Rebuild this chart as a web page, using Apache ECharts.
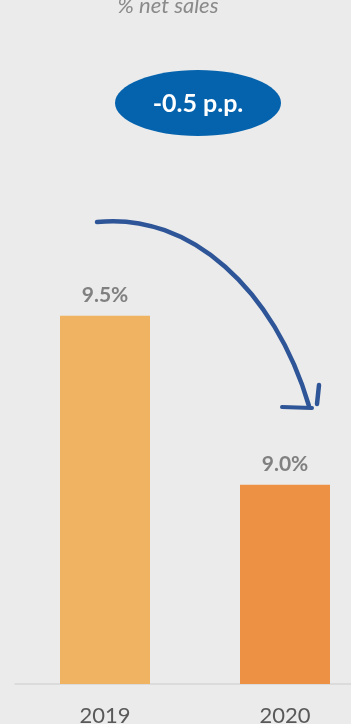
<!DOCTYPE html>
<html>
<head>
    <meta charset="utf-8">
    <title>% net sales</title>
    <style>
        html, body {
            margin: 0;
            padding: 0;
            background-color: #ebebeb;
        }
        #chart {
            width: 351px;
            height: 724px;
        }
    </style>
</head>
<body>
    <div id="chart"></div>
    <script src="https://cdn.jsdelivr.net/npm/echarts@6/dist/echarts.min.js"></script>
    <script>
        var years = ['2019', '2020'];
        var values = [9.5, 9.0];
        var barColors = ['#efb362', '#ed9245'];
        var deltaLabel = '-0.5 p.p.';

        var myChart = echarts.init(document.getElementById('chart'));

        var option = {
            backgroundColor: '#ebebeb',
            title: {
                text: '% net sales',
                left: 163,
                top: -10,
                textAlign: 'center',
                textStyle: {
                    fontFamily: 'Lato',
                    fontStyle: 'italic',
                    fontWeight: 'normal',
                    fontSize: 22,
                    color: '#8a8a8a'
                }
            },
            grid: {
                left: 15,
                width: 360,
                top: 113,
                bottom: 40,
                outerBoundsMode: 'none'
            },
            xAxis: {
                type: 'category',
                data: years,
                axisLine: { lineStyle: { color: '#d6d6d6', width: 1.5 } },
                axisTick: { show: false },
                axisLabel: {
                    margin: 21,
                    fontFamily: 'Lato',
                    fontSize: 22,
                    color: '#595959'
                }
            },
            yAxis: {
                type: 'value',
                min: 8.41,
                max: 10.1,
                show: false,
                splitLine: { show: false }
            },
            series: [{
                type: 'bar',
                barWidth: 90,
                data: values.map(function (v, i) {
                    return { value: v, itemStyle: { color: barColors[i] } };
                }),
                label: {
                    show: true,
                    position: 'top',
                    distance: 10,
                    formatter: function (p) { return p.value.toFixed(1) + '%'; },
                    fontFamily: 'Lato',
                    fontWeight: 'bold',
                    fontSize: 21,
                    color: '#808080'
                }
            }],
            graphic: [
                {
                    type: 'ellipse',
                    shape: { cx: 198, cy: 103, rx: 83, ry: 33 },
                    style: { fill: '#0563ae' }
                },
                {
                    type: 'text',
                    x: 198,
                    y: 104,
                    style: {
                        text: deltaLabel,
                        fill: '#ffffff',
                        fontFamily: 'Lato',
                        fontWeight: 'bold',
                        fontSize: 25,
                        align: 'center',
                        verticalAlign: 'middle'
                    }
                },
                {
                    type: 'bezierCurve',
                    shape: {
                        x1: 97, y1: 222,
                        cpx1: 190, cpy1: 212,
                        cpx2: 275, cpy2: 290,
                        x2: 309, y2: 406
                    },
                    style: { stroke: '#2e5597', lineWidth: 4.5, fill: null, lineCap: 'round' }
                },
                {
                    type: 'polyline',
                    shape: { points: [[282, 407], [312, 408]] },
                    style: { stroke: '#2e5597', lineWidth: 4, lineCap: 'round' }
                },
                {
                    type: 'polyline',
                    shape: { points: [[319, 385], [317, 404]] },
                    style: { stroke: '#2e5597', lineWidth: 4.5, lineCap: 'round' }
                }
            ]
        };

        myChart.setOption(option);
    </script>
</body>
</html>
